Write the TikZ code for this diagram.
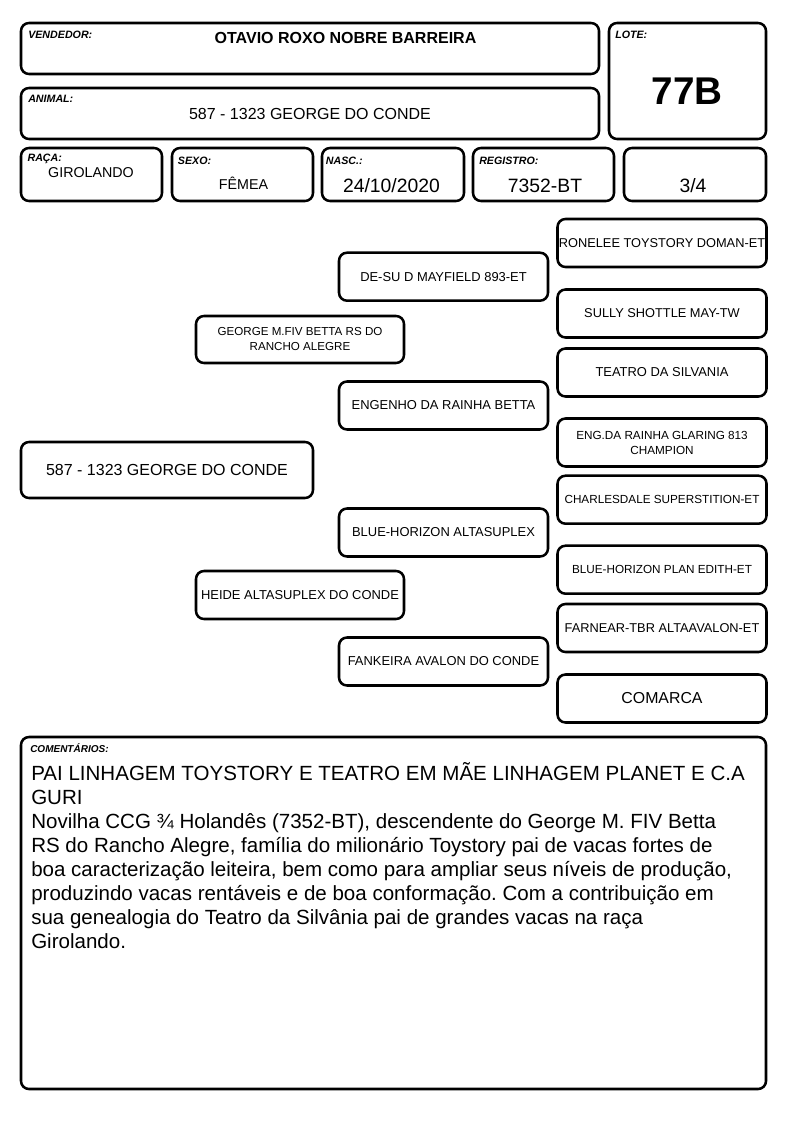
\documentclass[tikz,border=0pt]{standalone}
\usepackage{fontspec}
\setmainfont{Liberation Sans}
\frenchspacing

\begin{document}
\begin{tikzpicture}[x=0.75pt, y=-0.75pt,
  every node/.style={font=\fontsize{12}{14}\selectfont},
  box/.style={draw, line width=1.9pt, rounded corners=6pt, inner sep=0.5pt, align=center},
  tag/.style={anchor=base west, inner sep=0pt, font=\fontsize{8}{9}\selectfont\bfseries\itshape},
  val/.style={anchor=base, inner sep=0pt},
  ped/.style={box, minimum width=209*0.75pt, minimum height=48*0.75pt, font=\fontsize{9.7}{11.5}\selectfont}]
  \useasboundingbox (0,0) rectangle (794,1123);
  % header
  \node[box, minimum width=578*0.75pt, minimum height=51*0.75pt] (vend) at (310,48.5) {};
  \node[tag] (vendtag) at (28,39) {VENDEDOR:};
  \node[val, font=\fontsize{12}{14}\selectfont\bfseries] (vendname) at (345.5,43.3) {OTAVIO ROXO NOBRE BARREIRA};
  \node[box, minimum width=157*0.75pt, minimum height=116*0.75pt] (lote) at (687.5,81) {};
  \node[tag] (lotetag) at (615,39) {LOTE:};
  \node[val, font=\fontsize{29}{32}\selectfont\bfseries] (loteval) at (687,105) {77B};
  \node[box, minimum width=578*0.75pt, minimum height=51*0.75pt] (anim) at (310,113.5) {};
  \node[tag] (animtag) at (28,103) {ANIMAL:};
  \node[val] (animval) at (310,120) {587 - 1323 GEORGE DO CONDE};
  % data row
  \node[box, minimum width=141*0.75pt, minimum height=53*0.75pt] (raca) at (91.5,174.5) {};
  \node[tag] (racatag) at (27.3,162) {RAÇA:};
  \node[val, font=\fontsize{10.7}{12}\selectfont] (racaval) at (91,178) {GIROLANDO};
  \node[box, minimum width=141*0.75pt, minimum height=53*0.75pt] (sexo) at (242.5,174.5) {};
  \node[tag] (sexotag) at (177.7,165) {SEXO:};
  \node[val, font=\fontsize{10.7}{12}\selectfont] (sexoval) at (243.5,190) {FÊMEA};
  \node[box, minimum width=142*0.75pt, minimum height=53*0.75pt] (nasc) at (393,174.5) {};
  \node[tag] (nasctag) at (325.7,165) {NASC.:};
  \node[val, font=\fontsize{14.5}{16}\selectfont] (nascval) at (391.5,192.7) {24/10/2020};
  \node[box, minimum width=141*0.75pt, minimum height=53*0.75pt] (reg) at (543.5,174.5) {};
  \node[tag] (regtag) at (479,165) {REGISTRO:};
  \node[val, font=\fontsize{14.5}{16}\selectfont] (regval) at (545,193) {7352-BT};
  \node[box, minimum width=142*0.75pt, minimum height=53*0.75pt] (grau) at (695,174.5) {};
  \node[val, font=\fontsize{14.5}{16}\selectfont] (grauval) at (693,193) {3/4};
  % pedigree
  \node[box, minimum width=292*0.75pt, minimum height=56*0.75pt] (a0) at (167,470) {587 - 1323 GEORGE DO CONDE};
  \node[ped, minimum width=208*0.75pt, minimum height=47*0.75pt, font=\fontsize{8.7}{11.25}\selectfont] (s) at (300,339.5) {GEORGE M.FIV BETTA RS DO\\RANCHO ALEGRE};
  \node[ped, minimum width=208*0.75pt] (d) at (300,595) {HEIDE ALTASUPLEX DO CONDE};
  \node[ped] (ss) at (443.5,276.7) {DE-SU D MAYFIELD 893-ET};
  \node[ped] (sd) at (443.5,405.5) {ENGENHO DA RAINHA BETTA};
  \node[ped] (ds) at (443.5,532.5) {BLUE-HORIZON ALTASUPLEX};
  \node[ped] (dd) at (443.5,661.5) {FANKEIRA AVALON DO CONDE};
  \node[ped, font=\fontsize{9.6}{11.5}\selectfont] (sss) at (662,243) {RONELEE TOYSTORY DOMAN-ET};
  \node[ped, font=\fontsize{9.6}{11.5}\selectfont] (ssd) at (662,313.5) {SULLY SHOTTLE MAY-TW};
  \node[ped] (sds) at (662,372.5) {TEATRO DA SILVANIA};
  \node[ped, font=\fontsize{8.8}{11.25}\selectfont] (sdd) at (662,442.5) {ENG.DA RAINHA GLARING 813\\CHAMPION};
  \node[ped, font=\fontsize{8.8}{11}\selectfont] (dss) at (662,499.7) {CHARLESDALE SUPERSTITION-ET};
  \node[ped, font=\fontsize{8.8}{11}\selectfont] (dsd) at (662,569.7) {BLUE-HORIZON PLAN EDITH-ET};
  \node[ped, font=\fontsize{9.6}{11.5}\selectfont] (dds) at (662,628) {FARNEAR-TBR ALTAAVALON-ET};
  \node[ped, font=\fontsize{11.9}{14}\selectfont] (ddd) at (662,698.5) {COMARCA};
  % comments
  \node[box, minimum width=745*0.75pt, minimum height=352*0.75pt] (coment) at (393.5,913) {};
  \node[tag, font=\fontsize{7.5}{9}\selectfont\bfseries\itshape] (comtag) at (30,752) {COMENTÁRIOS:};
  \node[anchor=north west, align=left, inner sep=0pt, font=\fontsize{15.4}{18}\selectfont] (comtext) at (31,762)
    {PAI LINHAGEM TOYSTORY E TEATRO EM MÃE LINHAGEM PLANET E C.A\\
     GURI\\
     Novilha CCG ¾ Holandês (7352-BT), descendente do George M. FIV Betta\\
     RS do Rancho Alegre, família do milionário Toystory pai de vacas fortes de\\
     boa caracterização leiteira, bem como para ampliar seus níveis de produção,\\
     produzindo vacas rentáveis e de boa conformação. Com a contribuição em\\
     sua genealogia do Teatro da Silvânia pai de grandes vacas na raça\\
     Girolando.};
\end{tikzpicture}
\end{document}
